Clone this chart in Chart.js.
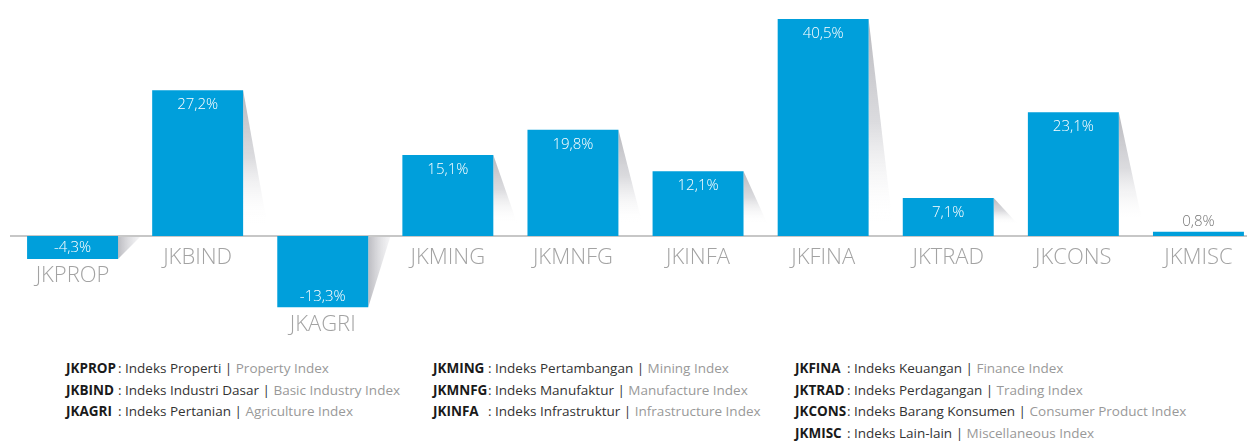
<!DOCTYPE html>
<html>
<head>
<meta charset="utf-8">
<script src="https://cdn.jsdelivr.net/npm/chart.js@4"></script>
<style>
  html, body { margin: 0; padding: 0; background: #fff; overflow: hidden; }
  #wrap { position: relative; width: 1247px; height: 442px; overflow: hidden; }
  #chart { position: absolute; left: 0; top: 0; }
  .legend { position: absolute; top: 358px; font: 13.5px "Open Sans", sans-serif; color: #333; line-height: 21.5px; white-space: nowrap; }
  .legend b { display: inline-block; color: #1a1a1a; font-weight: 700; }
  .legend .en { color: #999; }
</style>
</head>
<body>
<div id="wrap">
  <canvas id="chart" width="1261" height="345"></canvas>
  <div class="legend" id="leg1" style="left:66px"></div>
  <div class="legend" id="leg2" style="left:433px"></div>
  <div class="legend" id="leg3" style="left:795px"></div>
</div>
<script>
// sector indices, % change
const categories = ['JKPROP', 'JKBIND', 'JKAGRI', 'JKMING', 'JKMNFG', 'JKINFA', 'JKFINA', 'JKTRAD', 'JKCONS', 'JKMISC'];
const values = [-4.3, 27.2, -13.3, 15.1, 19.8, 12.1, 40.5, 7.1, 23.1, 0.8];

// legend text
const namesId = ['Indeks Properti', 'Indeks Industri Dasar', 'Indeks Pertanian', 'Indeks Pertambangan', 'Indeks Manufaktur',
  'Indeks Infrastruktur', 'Indeks Keuangan', 'Indeks Perdagangan', 'Indeks Barang Konsumen', 'Indeks Lain-lain'];
const namesEn = ['Property Index', 'Basic Industry Index', 'Agriculture Index', 'Mining Index', 'Manufacture Index',
  'Infrastructure Index', 'Finance Index', 'Trading Index', 'Consumer Product Index', 'Miscellaneous Index'];
const legendCols = [[0, 1, 2], [3, 4, 5], [6, 7, 8, 9]];
const codeWidths = [52, 55, 52];

legendCols.forEach((col, c) => {
  const el = document.getElementById('leg' + (c + 1));
  el.innerHTML = col.map(i =>
    `<div><b style="width:${codeWidths[c]}px">${categories[i]}</b>: ${namesId[i]} | <span class="en">${namesEn[i]}</span></div>`
  ).join('');
});

const fmt = v => v.toFixed(1).replace('.', ',') + '%';

const decor = {
  id: 'decor',
  beforeDatasetsDraw(chart) {
    const ctx = chart.ctx;
    const y0 = chart.scales.y.getPixelForValue(0);
    ctx.save();
    // zero line
    ctx.strokeStyle = '#b4b4b4';
    ctx.lineWidth = 1.5;
    ctx.beginPath();
    ctx.moveTo(10, y0);
    ctx.lineTo(chart.width, y0);
    ctx.stroke();
    // shadows
    chart.getDatasetMeta(0).data.forEach((bar, i) => {
      const p = bar.getProps(['x', 'y', 'base', 'width'], true);
      const right = p.x + p.width / 2;
      if (values[i] >= 0) {
        if (p.base - p.y < 10) return;
        const g = ctx.createLinearGradient(0, p.y, 0, p.base - 12);
        g.addColorStop(0, 'rgba(170,170,176,0.85)');
        g.addColorStop(0.5, 'rgba(200,200,205,0.65)');
        g.addColorStop(1, 'rgba(255,255,255,0)');
        ctx.fillStyle = g;
        ctx.beginPath();
        ctx.moveTo(right, p.y);
        ctx.lineTo(right + 24, p.base - 12);
        ctx.lineTo(right, p.base - 12);
        ctx.closePath();
        ctx.fill();
      } else {
        const g = ctx.createLinearGradient(right, 0, right + 22, 0);
        g.addColorStop(0, 'rgba(180,180,186,0.9)');
        g.addColorStop(1, 'rgba(235,235,238,0.5)');
        ctx.fillStyle = g;
        ctx.beginPath();
        ctx.moveTo(right, p.base + 1);
        ctx.lineTo(right + 22, p.base + 1);
        ctx.lineTo(right, p.y);
        ctx.closePath();
        ctx.fill();
      }
    });
    ctx.restore();
  },
  afterDatasetsDraw(chart) {
    const ctx = chart.ctx;
    ctx.save();
    ctx.textAlign = 'center';
    ctx.textBaseline = 'middle';
    chart.getDatasetMeta(0).data.forEach((bar, i) => {
      const p = bar.getProps(['x', 'y', 'base', 'width'], true);
      const v = values[i];
      ctx.font = '300 15px "Open Sans", sans-serif';
      if (v >= 0) {
        if (p.base - p.y > 25) {
          ctx.fillStyle = '#ffffff';
          ctx.fillText(fmt(v), p.x, p.y + 15);
        } else {
          ctx.fillStyle = '#777777';
          ctx.fillText(fmt(v), p.x, p.y - 10);
        }
        ctx.font = '300 22px "Open Sans", sans-serif';
        ctx.fillStyle = '#a3a3a3';
        ctx.fillText(categories[i], p.x, p.base + 22);
      } else {
        ctx.fillStyle = '#ffffff';
        ctx.fillText(fmt(v), p.x, p.y - 11);
        ctx.font = '300 22px "Open Sans", sans-serif';
        ctx.fillStyle = '#a3a3a3';
        ctx.fillText(categories[i], p.x, p.y + 17);
      }
    });
    ctx.restore();
  }
};

new Chart(document.getElementById('chart'), {
  type: 'bar',
  data: {
    labels: categories,
    datasets: [{
      data: values,
      backgroundColor: '#009fdb',
      borderWidth: 0,
      barPercentage: 0.727,
      categoryPercentage: 1
    }]
  },
  options: {
    responsive: false,
    animation: false,
    layout: { padding: { left: 10, right: 0, top: 0, bottom: 0 } },
    plugins: { legend: { display: false }, tooltip: { enabled: false } },
    scales: {
      x: { display: false },
      y: { display: false, min: -20.34, max: 44.03 }
    }
  },
  plugins: [decor]
});
</script>
</body>
</html>
